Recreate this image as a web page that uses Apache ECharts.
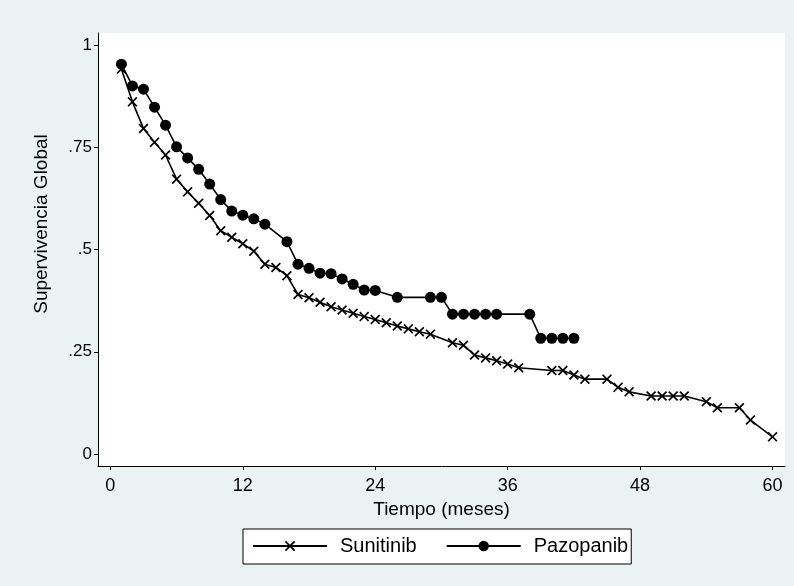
<!DOCTYPE html>
<html>
<head>
<meta charset="utf-8">
<script src="https://cdn.jsdelivr.net/npm/echarts@6/dist/echarts.min.js"></script>
<style>
  html, body { margin: 0; padding: 0; background: #eaf2f3; }
  #km-chart { width: 794px; height: 586px; }
</style>
</head>
<body>
<div id="km-chart"></div>
<script>
// Curvas de supervivencia global (Kaplan-Meier) por tratamiento
const sunitinibMeses = [1, 2, 3, 4, 5, 6, 7, 8, 9, 10, 11, 12, 13, 14, 15, 16, 17, 18, 19, 20,
    21, 22, 23, 24, 25, 26, 27, 28, 29, 31, 32, 33, 34, 35, 36, 37, 40, 41, 42, 43,
    45, 46, 47, 49, 50, 51, 52, 54, 55, 57, 58, 60];
const sunitinibSuperv = [.941, .861, .796, .762, .731, .672, .641, .613, .583, .546, .530, .514, .496, .464, .456, .436, .390, .382, .371, .360,
    .352, .344, .336, .329, .321, .313, .306, .299, .293, .272, .266, .242, .235, .228, .220, .211, .204, .204, .193, .183,
    .183, .163, .152, .142, .142, .142, .142, .128, .113, .113, .083, .042];

const pazopanibMeses = [1, 2, 3, 4, 5, 6, 7, 8, 9, 10, 11, 12, 13, 14, 16, 17, 18, 19, 20, 21,
    22, 23, 24, 26, 29, 30, 31, 32, 33, 34, 35, 38, 39, 40, 41, 42];
const pazopanibSuperv = [.953, .900, .892, .848, .804, .751, .724, .696, .660, .622, .594, .584, .575, .562, .519, .464, .454, .442, .441, .428,
    .415, .401, .400, .383, .383, .383, .342, .342, .342, .342, .342, .342, .283, .283, .283, .283];

const xTicks = [0, 12, 24, 36, 48, 60];
const yTicks = [0, 0.25, 0.5, 0.75, 1];
const yTickLabels = ['0', '.25', '.5', '.75', '1'];

const seriesNames = ['Sunitinib', 'Pazopanib'];

// aspa como poligono relleno
const crossPath = 'path://M0,1.2L1.2,0L5,3.8L8.8,0L10,1.2L6.2,5L10,8.8L8.8,10L5,6.2L1.2,10L0,8.8L3.8,5Z';

function toPairs(xs, ys) {
    return xs.map(function (x, i) { return [x, ys[i]]; });
}

function drawKMChart() {
    var dom = document.getElementById('km-chart');
    var myChart = echarts.init(dom, null, { renderer: 'canvas' });
    var font = 'Liberation Sans, Arial, Helvetica, sans-serif';

    var option = {
        backgroundColor: '#eaf2f3',
        animation: false,
        grid: {
            left: 98,
            right: 9,
            top: 33,
            bottom: 120,
            show: true,
            backgroundColor: '#ffffff',
            borderWidth: 0
        },
        xAxis: {
            type: 'value',
            min: -1.12,
            max: 61.13,
            name: 'Tiempo (meses)',
            nameLocation: 'middle',
            nameGap: 33,
            nameTextStyle: { color: '#000', fontSize: 19, fontFamily: font },
            axisLine: { onZero: false, lineStyle: { color: '#000', width: 1 } },
            axisTick: { show: true, length: 4, customValues: xTicks, lineStyle: { color: '#000' } },
            axisLabel: {
                customValues: xTicks,
                margin: 11,
                color: '#000',
                fontSize: 18,
                fontFamily: font
            },
            splitLine: { show: false }
        },
        yAxis: {
            type: 'value',
            min: -0.0293,
            max: 1.0293,
            axisLine: { show: true, onZero: false, lineStyle: { color: '#000', width: 1 } },
            axisTick: { show: true, length: 4, customValues: yTicks, lineStyle: { color: '#000' } },
            axisLabel: {
                customValues: yTicks,
                margin: 6,
                color: '#000',
                fontSize: 17,
                fontFamily: font,
                formatter: function (v) {
                    var i = yTicks.indexOf(v);
                    return i >= 0 ? yTickLabels[i] : '';
                }
            },
            splitLine: { show: false }
        },
        graphic: [{
            type: 'text',
            x: 42,
            y: 224,
            rotation: Math.PI / 2,
            style: {
                text: 'Supervivencia Global',
                fill: '#000',
                font: '19px ' + font,
                textAlign: 'center',
                textVerticalAlign: 'middle'
            }
        }],
        legend: {
            left: 243,
            top: 529,
            orient: 'horizontal',
            padding: [7, 3, 8, 9],
            itemWidth: 74,
            itemHeight: 13,
            itemGap: 29,
            borderColor: '#000',
            borderWidth: 1,
            backgroundColor: '#ffffff',
            textStyle: { color: '#000', fontSize: 20, fontFamily: font, padding: [0, 0, 0, 8] },
            data: seriesNames
        },
        series: [
            {
                name: seriesNames[0],
                type: 'line',
                data: toPairs(sunitinibMeses, sunitinibSuperv),
                symbol: crossPath,
                symbolSize: 10,
                showAllSymbol: true,
                lineStyle: { color: '#000', width: 1.6 },
                itemStyle: { color: '#000' },
                emphasis: { disabled: true }
            },
            {
                name: seriesNames[1],
                type: 'line',
                data: toPairs(pazopanibMeses, pazopanibSuperv),
                symbol: 'circle',
                symbolSize: 11,
                showAllSymbol: true,
                lineStyle: { color: '#000', width: 1.6 },
                itemStyle: { color: '#000' },
                emphasis: { disabled: true }
            }
        ]
    };

    myChart.setOption(option);
    window.addEventListener('resize', myChart.resize);
}

drawKMChart();
</script>
</body>
</html>
